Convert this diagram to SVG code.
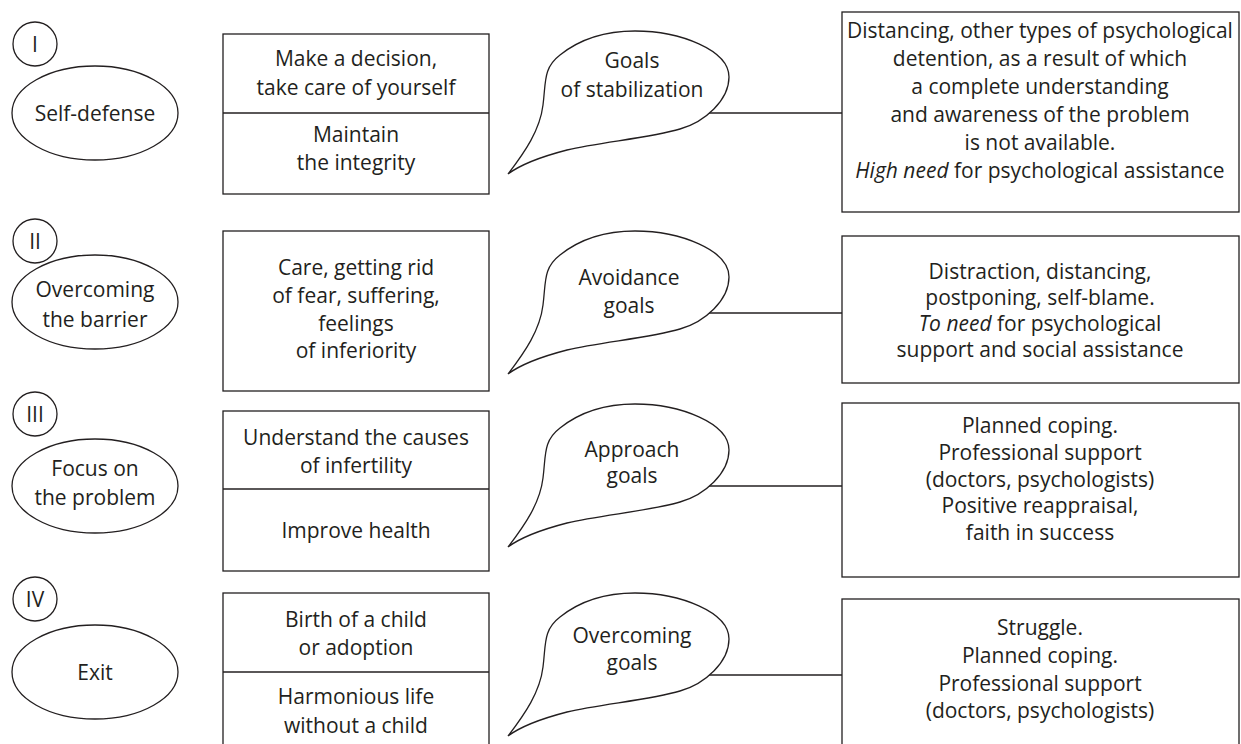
<svg xmlns="http://www.w3.org/2000/svg" width="1241" height="744" viewBox="0 0 1241 744">
<style>
  .ln{fill:#fff;stroke:#231f20;stroke-width:1.3}
  .cn{fill:none;stroke:#231f20;stroke-width:1.3}
  text{font-family:"Open Sans","Liberation Sans",sans-serif;font-size:21px;fill:#231f20;text-anchor:middle}
  .it{font-style:italic}
</style>
<defs>
  <path id="bub" d="M508,174 C525,152 540,130 543,105 C546,82 543,68 560,55 C585,35 615,31 635,31 C680,31 729,50 729,77 C729,100 705,122 680,129 C650,138 600,142 567,150 C540,157 520,165 508,174 Z"/>
</defs>
<rect width="1241" height="744" fill="#fff"/>

<g id="connectors">
  <line class="cn" x1="709" y1="113" x2="842" y2="113"/>
  <line class="cn" x1="709" y1="313" x2="842" y2="313"/>
  <line class="cn" x1="709" y1="486" x2="842" y2="486"/>
  <line class="cn" x1="709" y1="675" x2="842" y2="675"/>
</g>

<!-- Row I -->
<g id="num1"><circle class="ln" cx="35" cy="44" r="22"/><text x="35" y="52">I</text></g>
<g id="stage1"><ellipse class="ln" cx="95" cy="113" rx="83" ry="47"/><text x="95" y="121">Self-defense</text></g>
<g id="tasks1">
  <rect class="ln" x="223" y="34" width="266" height="160"/>
  <line class="cn" x1="223" y1="113" x2="489" y2="113"/>
  <text x="356" y="66">Make a decision,</text>
  <text x="356" y="95">take care of yourself</text>
  <text x="356" y="142">Maintain</text>
  <text x="356" y="170">the integrity</text>
</g>
<g id="goal1"><use href="#bub" class="ln"/><text x="632" y="68">Goals</text><text x="632" y="97">of stabilization</text></g>
<g id="coping1">
  <rect class="ln" x="842" y="12" width="397" height="200"/>
  <text x="1040" y="38">Distancing, other types of psychological</text>
  <text x="1040" y="66">detention, as a result of which</text>
  <text x="1040" y="94">a complete understanding</text>
  <text x="1040" y="122">and awareness of the problem</text>
  <text x="1040" y="150">is not available.</text>
  <text x="1040" y="178"><tspan class="it">High need</tspan> for psychological assistance</text>
</g>

<!-- Row II -->
<g id="num2"><circle class="ln" cx="35" cy="241" r="22"/><text x="35" y="249">II</text></g>
<g id="stage2"><ellipse class="ln" cx="95" cy="302" rx="83" ry="47"/><text x="95" y="297">Overcoming</text><text x="95" y="327">the barrier</text></g>
<g id="tasks2">
  <rect class="ln" x="223" y="231" width="266" height="160"/>
  <text x="356" y="275">Care, getting rid</text>
  <text x="356" y="303">of fear, suffering,</text>
  <text x="356" y="331">feelings</text>
  <text x="356" y="358">of inferiority</text>
</g>
<g id="goal2"><use href="#bub" class="ln" transform="translate(0,200)"/><text x="629" y="285">Avoidance</text><text x="629" y="313">goals</text></g>
<g id="coping2">
  <rect class="ln" x="842" y="236" width="397" height="147"/>
  <text x="1040" y="279">Distraction, distancing,</text>
  <text x="1040" y="305">postponing, self-blame.</text>
  <text x="1040" y="331"><tspan class="it">To need</tspan> for psychological</text>
  <text x="1040" y="357">support and social assistance</text>
</g>

<!-- Row III -->
<g id="num3"><circle class="ln" cx="35" cy="414" r="22"/><text x="35" y="422">III</text></g>
<g id="stage3"><ellipse class="ln" cx="95" cy="486" rx="83" ry="47"/><text x="95" y="476">Focus on</text><text x="95" y="505">the problem</text></g>
<g id="tasks3">
  <rect class="ln" x="223" y="411" width="266" height="160"/>
  <line class="cn" x1="223" y1="489" x2="489" y2="489"/>
  <text x="356" y="445">Understand the causes</text>
  <text x="356" y="473">of infertility</text>
  <text x="356" y="538">Improve health</text>
</g>
<g id="goal3"><use href="#bub" class="ln" transform="translate(0,373)"/><text x="632" y="457">Approach</text><text x="632" y="483">goals</text></g>
<g id="coping3">
  <rect class="ln" x="842" y="403" width="397" height="174"/>
  <text x="1040" y="433">Planned coping.</text>
  <text x="1040" y="460">Professional support</text>
  <text x="1040" y="487">(doctors, psychologists)</text>
  <text x="1040" y="513">Positive reappraisal,</text>
  <text x="1040" y="540">faith in success</text>
</g>

<!-- Row IV -->
<g id="num4"><circle class="ln" cx="35" cy="599" r="22"/><text x="35" y="607">IV</text></g>
<g id="stage4"><ellipse class="ln" cx="95" cy="672" rx="83" ry="47"/><text x="95" y="680">Exit</text></g>
<g id="tasks4">
  <rect class="ln" x="223" y="593" width="266" height="170"/>
  <line class="cn" x1="223" y1="672" x2="489" y2="672"/>
  <text x="356" y="627">Birth of a child</text>
  <text x="356" y="655">or adoption</text>
  <text x="356" y="704">Harmonious life</text>
  <text x="356" y="733">without a child</text>
</g>
<g id="goal4"><use href="#bub" class="ln" transform="translate(0,562)"/><text x="632" y="643">Overcoming</text><text x="632" y="670">goals</text></g>
<g id="coping4">
  <rect class="ln" x="842" y="599" width="397" height="170"/>
  <text x="1040" y="635">Struggle.</text>
  <text x="1040" y="663">Planned coping.</text>
  <text x="1040" y="691">Professional support</text>
  <text x="1040" y="718">(doctors, psychologists)</text>
</g>
</svg>
